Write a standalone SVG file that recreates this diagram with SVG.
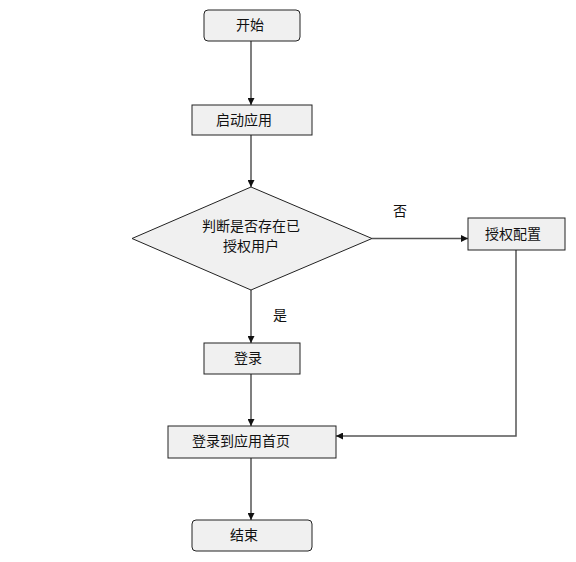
<svg xmlns="http://www.w3.org/2000/svg" width="576" height="562" viewBox="0 0 576 562">
<defs>
<style>
.n{fill:#f0f0f0;stroke:#222;stroke-width:1}
.t{font-family:"Liberation Sans","Noto Sans CJK SC",sans-serif;font-size:14px;fill:#111;text-anchor:middle;dominant-baseline:central}
.c{fill:none;stroke:#555;stroke-width:1.5}
</style>
<marker id="ah" viewBox="0 0 10 10" refX="10" refY="5" markerWidth="7" markerHeight="7" markerUnits="userSpaceOnUse" orient="auto">
<path d="M0,0 L10,5 L0,10 z" fill="#111"/>
</marker>
</defs>
<rect width="576" height="562" fill="#fff"/>
<g id="connectors">
<line class="c" x1="251" y1="41" x2="251" y2="105" marker-end="url(#ah)"/>
<line class="c" x1="251" y1="135" x2="251" y2="187" marker-end="url(#ah)"/>
<line class="c" x1="372" y1="238.5" x2="468" y2="238.5" marker-end="url(#ah)"/>
<line class="c" x1="251" y1="290" x2="251" y2="343" marker-end="url(#ah)"/>
<line class="c" x1="251" y1="374" x2="251" y2="426" marker-end="url(#ah)"/>
<polyline class="c" points="516,250 516,436 336,436" marker-end="url(#ah)"/>
<line class="c" x1="251" y1="458" x2="251" y2="520" marker-end="url(#ah)"/>
<text class="t" x="400" y="211">否</text>
<text class="t" x="280" y="315">是</text>
</g>
<g id="start">
<rect class="n" x="204" y="10" width="96" height="31" rx="4"/>
<text class="t" x="250" y="25">开始</text>
</g>
<g id="launch">
<rect class="n" x="192" y="105" width="120" height="30"/>
<text class="t" x="244" y="120">启动应用</text>
</g>
<g id="decision">
<polygon class="n" points="251,187 372,238.5 251,290 132,238.5"/>
<text class="t" x="251" y="226">判断是否存在已</text>
<text class="t" x="251" y="246">授权用户</text>
</g>
<g id="authconfig">
<rect class="n" x="468" y="218" width="97" height="32"/>
<text class="t" x="513" y="234">授权配置</text>
</g>
<g id="login">
<rect class="n" x="204" y="343" width="96" height="31"/>
<text class="t" x="248" y="358">登录</text>
</g>
<g id="home">
<rect class="n" x="168" y="426" width="168" height="32"/>
<text class="t" x="241" y="441">登录到应用首页</text>
</g>
<g id="end">
<rect class="n" x="192" y="520" width="120" height="31" rx="4"/>
<text class="t" x="244" y="535">结束</text>
</g>
</svg>
